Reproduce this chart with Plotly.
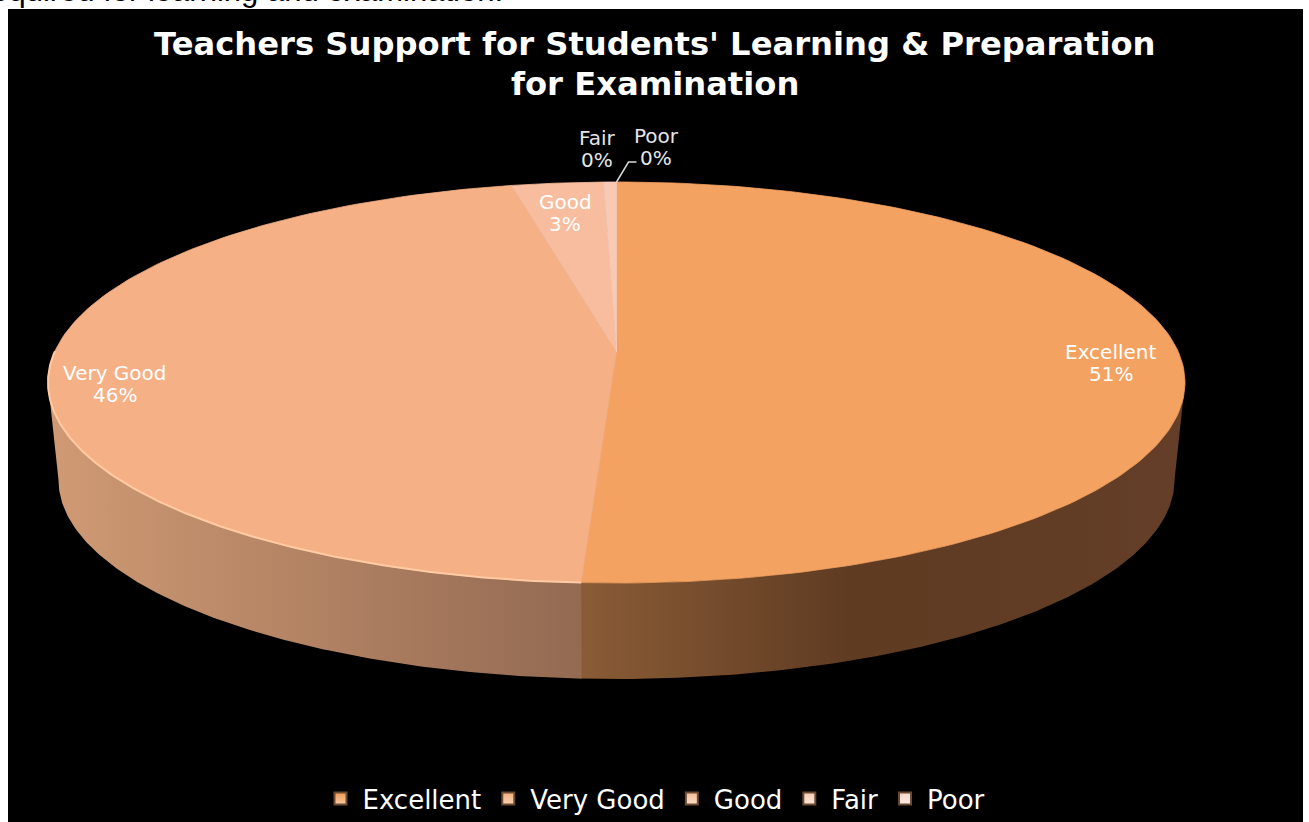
import math
import plotly.graph_objects as go

categories = ["Excellent", "Very Good", "Good", "Fair", "Poor"]
values = [50.99, 46.05, 2.6, 0.36, 0.0]
top_colors = ["#F4A261", "#F5B085", "#F7BD9E", "#F8C9B4", "#F9D5C8"]
legend_colors = ["#EE9A55", "#F2AC78", "#F3BC98", "#F4CBB5", "#F3D8CC"]
legend_light = ["#F8C9A0", "#FAD3B5", "#FBDCC6", "#FCE6D8", "#FCEDE6"]
wall_excellent_stops = [[0.0, "#8A5C36"], [0.45, "#5F3B22"], [1.0, "#643E28"]]
wall_verygood_stops = [[0.0, "#D09A74"], [1.0, "#936A52"]]
title_lines = ["Teachers Support for Students' Learning &amp; Preparation", "for Examination"]
stray_text = "required for learning and examination."

W, H = 1309, 822
CX, CY, RX, RY = 616.5, 382.5, 568.5, 200.5     # top ellipse
APEX_Y = 352.0                                   # perspective centre of the slices
BCY, BRX, BRY = 480.0, 558.0, 199.0              # bottom ellipse


def top_pt(a):
    return CX + RX * math.sin(a), CY - RY * math.cos(a)


def bot_pt(a):
    return CX + BRX * math.sin(a), BCY - BRY * math.cos(a)


total = sum(values)
bounds = [0.0]
for v in values:
    bounds.append(bounds[-1] + v / total * 2 * math.pi)


def arc(a0, a1, n=160):
    return [a0 + (a1 - a0) * i / n for i in range(n + 1)]


fig = go.Figure()

# stray sentence from the source page, covered by the black panel
fig.add_trace(go.Scatter(x=[503], y=[-6.5], mode="text", text=[stray_text], textposition="middle left",
                         textfont=dict(family="Liberation Sans", size=31, color="#000000"),
                         showlegend=False, hoverinfo="skip", cliponaxis=True))
# black panel
fig.add_trace(go.Scatter(x=[8, 1303, 1303, 8, 8], y=[9, 9, 822, 822, 9], mode="lines", fill="toself",
                         fillcolor="#000000", line=dict(width=0), showlegend=False, hoverinfo="skip"))


def wall(a0, a1, stops, name):
    angs = arc(a0, a1)
    t = [top_pt(a) for a in angs]
    b = [bot_pt(a) for a in angs][::-1]
    pts = t + b + [t[0]]
    xs = [p[0] for p in pts]
    lo, hi = min(xs), max(xs)
    fig.add_trace(go.Scatter(
        x=xs, y=[p[1] for p in pts], mode="lines", line=dict(width=0), fill="toself",
        fillgradient=dict(type="horizontal", start=lo, stop=hi, colorscale=stops),
        showlegend=False, hoverinfo="skip", name=name))


# visible front walls: the Excellent slice runs slightly under the Very Good one to avoid a seam
wall(math.pi / 2, bounds[1] + 0.004, wall_excellent_stops, "Excellent wall")
wall(bounds[1], 3 * math.pi / 2, wall_verygood_stops, "Very Good wall")

# top slices
for i, cat in enumerate(categories):
    a0, a1 = bounds[i], bounds[i + 1]
    if a1 - a0 < 1e-6:
        continue
    pts = [top_pt(a) for a in arc(a0, a1)]
    xs = [CX] + [p[0] for p in pts] + [CX]
    ys = [APEX_Y] + [p[1] for p in pts] + [APEX_Y]
    fig.add_trace(go.Scatter(x=xs, y=ys, mode="lines", fill="toself", fillcolor=top_colors[i],
                             line=dict(width=0.8, color=top_colors[i]), showlegend=False, name=cat,
                             hovertemplate=cat + ": %{customdata}%<extra></extra>",
                             customdata=[values[i]] * len(xs)))

# light rim along the front of the Very Good slice
rim = [top_pt(a) for a in arc(bounds[1], math.pi * 1.55, 200)]
fig.add_trace(go.Scatter(x=[p[0] for p in rim], y=[p[1] for p in rim], mode="lines",
                         line=dict(color="#FFCBA4", width=2), showlegend=False, hoverinfo="skip"))

# legend keys
for cat, col, light in zip(categories, legend_colors, legend_light):
    fig.add_trace(go.Scatter(x=[None], y=[None], mode="markers", name=cat,
                             marker=dict(symbol="square", size=15, color=col,
                                         gradient=dict(type="vertical", color=light),
                                         line=dict(color="#6B4A32", width=1))))

# leader line for the Poor label
lead_a = bounds[-1]
lx, ly = top_pt(lead_a)
fig.add_trace(go.Scatter(x=[lx, lx + 12, lx + 20], y=[ly, ly - 20, ly - 20], mode="lines",
                         line=dict(color="#D9D9D9", width=1.5), showlegend=False, hoverinfo="skip"))

label_pos = {"Excellent": (1111, 363), "Very Good": (115, 384), "Good": (565, 213),
             "Fair": (597, 149), "Poor": (656, 147)}
annotations = []
for cat, v in zip(categories, values):
    x, y = label_pos[cat]
    col = "#FFFFFF" if v > 1 else "#E6E6E6"
    f = dict(family="DejaVu Sans", size=20, color=col)
    annotations.append(dict(x=x, y=y - 11, xref="x", yref="y", showarrow=False, text=cat, font=f))
    annotations.append(dict(x=x, y=y + 11, xref="x", yref="y", showarrow=False, text=f"{round(v)}%", font=f))
for line, y in zip(title_lines, (44, 84)):
    annotations.append(dict(x=655, y=y, xref="x", yref="y", showarrow=False,
                            text="<b>" + line + "</b>",
                            font=dict(family="DejaVu Sans", size=32.2, color="#FFFFFF")))

fig.update_layout(
    width=W, height=H, autosize=False,
    margin=dict(l=0, r=0, t=0, b=0),
    paper_bgcolor="#FFFFFF", plot_bgcolor="#FFFFFF",
    xaxis=dict(range=[0, W], visible=False, fixedrange=True),
    yaxis=dict(range=[H, 0], visible=False, fixedrange=True),
    annotations=annotations,
    showlegend=True,
    legend=dict(orientation="h", x=0.5, xanchor="center", y=0.0, yanchor="bottom",
                bgcolor="rgba(0,0,0,0)", font=dict(family="DejaVu Sans", size=26, color="#FFFFFF"),
                itemsizing="constant", itemwidth=34, traceorder="normal"),
)
fig.write_html("out.html", config={"displayModeBar": False},
               post_script="document.body.style.margin='0';document.documentElement.style.overflow='hidden';")
